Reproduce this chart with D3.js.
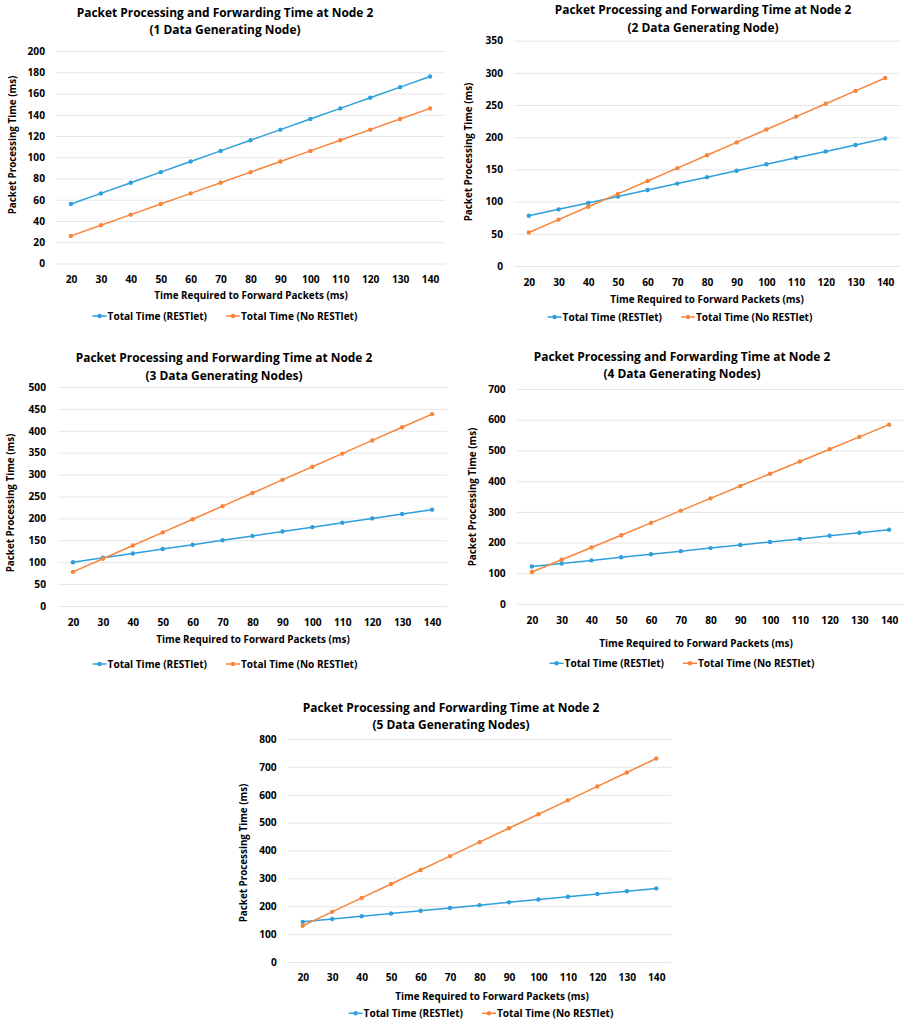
<!DOCTYPE html>
<html>
<head>
<meta charset="utf-8">
<script src="https://cdn.jsdelivr.net/npm/d3@7"></script>
<style>
  body { margin: 0; background: #fff; }
  svg { display: block; }
  text { font-family: "Open Sans", Lato, sans-serif; font-weight: bold; fill: #000; }
</style>
</head>
<body>
<svg width="910" height="1024"></svg>
<script>
"use strict";
// x categories: time required to forward packets (ms)
const forwardTimes = [20, 30, 40, 50, 60, 70, 80, 90, 100, 110, 120, 130, 140];

// total processing time (ms)
const restlet1   = [56, 66, 76, 86, 96, 106, 116, 126, 136, 146, 156, 166, 176];
const noRestlet1 = [26, 36, 46, 56, 66, 76, 86, 96, 106, 116, 126, 136, 146];
const restlet2   = [78, 88, 98, 108, 118, 128, 138, 148, 158, 168, 178, 188, 198];
const noRestlet2 = [52, 72, 92, 112, 132, 152, 172, 192, 212, 232, 252, 272, 292];
const restlet3   = [100, 110, 120, 130, 140, 150, 160, 170, 180, 190, 200, 210, 220];
const noRestlet3 = [78, 108, 138, 168, 198, 228, 258, 288, 318, 348, 378, 408, 438];
const restlet4   = [122, 132, 142, 152, 162, 172, 182, 192, 202, 212, 222, 232, 242];
const noRestlet4 = [104, 144, 184, 224, 264, 304, 344, 384, 424, 464, 504, 544, 584];
const restlet5   = [144, 154, 164, 174, 184, 194, 204, 214, 224, 234, 244, 254, 264];
const noRestlet5 = [130, 180, 230, 280, 330, 380, 430, 480, 530, 580, 630, 680, 730];

const subtitles = [
    "(1 Data Generating Node)",
    "(2 Data Generating Node)",
    "(3 Data Generating Nodes)",
    "(4 Data Generating Nodes)",
    "(5 Data Generating Nodes)"
];
const yMaxes = [200, 350, 500, 700, 800];
const yTickSteps = [20, 50, 50, 100, 100];
const seriesNames = ["Total Time (RESTlet)", "Total Time (No RESTlet)"];

const TITLE = "Packet Processing and Forwarding Time at Node 2";
const X_TITLE = "Time Required to Forward Packets (ms)";
const Y_TITLE = "Packet Processing Time (ms)";
const COLORS = ["#2e9fdb", "#f7853a"];

// where each panel sits on the page
const panels = [
    { left: 56,  right: 445, top: 51,  bottom: 263.5, titleX: 225, titleY: 12,  tickY: 279, xTitleX: 251, xTitleY: 295, legendX: 225, legendY: 316,  yTitleX: 12,  yTitleY: 145, labelRight: 45 },
    { left: 514, right: 900, top: 40.7, bottom: 266, titleX: 703, titleY: 9.5, tickY: 282, xTitleX: 707, xTitleY: 298.7, legendX: 680, legendY: 317, yTitleX: 468, yTitleY: 152, labelRight: 503 },
    { left: 58,  right: 447, top: 387, bottom: 606,   titleX: 224, titleY: 357.5, tickY: 622, xTitleX: 253, xTitleY: 639, legendX: 225, legendY: 664,  yTitleX: 10,  yTitleY: 503, labelRight: 46 },
    { left: 517, right: 904, top: 389, bottom: 604,   titleX: 682, titleY: 356, tickY: 620, xTitleX: 696, xTitleY: 643.3, legendX: 682, legendY: 663.3, yTitleX: 472, yTitleY: 497, labelRight: 505.7 },
    { left: 288, right: 671, top: 739, bottom: 962,   titleX: 451, titleY: 707, tickY: 977.3, xTitleX: 492, xTitleY: 996, legendX: 481, legendY: 1013.3, yTitleX: 243, yTitleY: 853, labelRight: 276.7 }
];

const allSeries = [
    [restlet1, noRestlet1],
    [restlet2, noRestlet2],
    [restlet3, noRestlet3],
    [restlet4, noRestlet4],
    [restlet5, noRestlet5]
];

const svg = d3.select("svg");

// pick font sizes so the text comes out as wide as in the original figure
function sizeFor(str, targetWidth) {
    const probe = svg.append("text").attr("font-size", 20).text(str);
    const w = probe.node().getComputedTextLength();
    probe.remove();
    return 20 * targetWidth / w;
}
const titleSize = sizeFor(TITLE, 297);
const tickSize = sizeFor("140", 17.5);
const xTitleSize = sizeFor(X_TITLE, 194);
const yTitleSize = sizeFor(Y_TITLE, 139);
const legendSize = sizeFor(seriesNames[0] + seriesNames[1], 216);

panels.forEach((p, idx) => drawPanel(p, idx));

function drawPanel(p, idx) {
    const g = svg.append("g");

    const x = d3.scalePoint()
        .domain(forwardTimes)
        .range([p.left, p.right])
        .padding(0.5);
    const y = d3.scaleLinear()
        .domain([0, yMaxes[idx]])
        .range([p.bottom, p.top]);

    // gridlines + y tick labels
    const yAxis = g.append("g")
        .attr("transform", `translate(${p.left},0)`)
        .call(d3.axisLeft(y)
            .tickValues(d3.range(0, yMaxes[idx] + 1, yTickSteps[idx]))
            .tickSize(-(p.right - p.left))
            .tickPadding(p.left - p.labelRight));
    yAxis.select(".domain").remove();
    yAxis.selectAll(".tick line").attr("stroke", "#e6e6e6").attr("stroke-width", 1);
    yAxis.selectAll(".tick text").attr("font-size", tickSize).attr("fill", "#000")
        .attr("font-family", null);

    // x tick labels
    const xAxis = g.append("g")
        .attr("transform", `translate(0,${p.bottom})`)
        .call(d3.axisBottom(x).tickSize(0).tickPadding(p.tickY - p.bottom - tickSize * 0.36));
    xAxis.select(".domain").remove();
    xAxis.selectAll(".tick text").attr("font-size", tickSize).attr("fill", "#000");
    g.selectAll(".tick text").style("font-family", "'Open Sans'").style("font-weight", "bold");

    // title (two lines)
    g.append("text")
        .attr("x", p.titleX).attr("y", p.titleY)
        .attr("text-anchor", "middle").attr("dominant-baseline", "central")
        .attr("font-size", titleSize)
        .text(TITLE);
    g.append("text")
        .attr("x", p.titleX).attr("y", p.titleY + 17.5)
        .attr("text-anchor", "middle").attr("dominant-baseline", "central")
        .attr("font-size", titleSize)
        .text(subtitles[idx]);

    // axis titles
    g.append("text")
        .attr("x", p.xTitleX).attr("y", p.xTitleY)
        .attr("text-anchor", "middle").attr("dominant-baseline", "central")
        .attr("font-size", xTitleSize)
        .text(X_TITLE);
    g.append("text")
        .attr("transform", `translate(${p.yTitleX},${p.yTitleY}) rotate(-90)`)
        .attr("text-anchor", "middle").attr("dominant-baseline", "central")
        .attr("font-size", yTitleSize)
        .text(Y_TITLE);

    // lines + markers
    const line = d3.line()
        .x((d, i) => x(forwardTimes[i]))
        .y(d => y(d));
    allSeries[idx].forEach((values, s) => {
        g.append("path")
            .datum(values)
            .attr("fill", "none")
            .attr("stroke", COLORS[s])
            .attr("stroke-width", 1.5)
            .attr("d", line);
        g.selectAll(null)
            .data(values)
            .join("circle")
                .attr("cx", (d, i) => x(forwardTimes[i]))
                .attr("cy", d => y(d))
                .attr("r", 2.2)
                .attr("fill", COLORS[s]);
    });

    // legend, measured then centred
    const legend = g.append("g");
    let cursor = 0;
    seriesNames.forEach((name, s) => {
        const item = legend.append("g").attr("transform", `translate(${cursor},0)`);
        item.append("line")
            .attr("x1", 0).attr("x2", 14).attr("y1", 0).attr("y2", 0)
            .attr("stroke", COLORS[s]).attr("stroke-width", 1.5);
        item.append("circle").attr("cx", 7).attr("cy", 0).attr("r", 2.2).attr("fill", COLORS[s]);
        const t = item.append("text")
            .attr("x", 15).attr("y", 0)
            .attr("dominant-baseline", "central")
            .attr("font-size", legendSize)
            .text(name);
        cursor += 15 + t.node().getComputedTextLength() + 19;
    });
    const legendWidth = cursor - 19;
    legend.attr("transform", `translate(${p.legendX - legendWidth / 2},${p.legendY})`);
}
</script>
</body>
</html>
